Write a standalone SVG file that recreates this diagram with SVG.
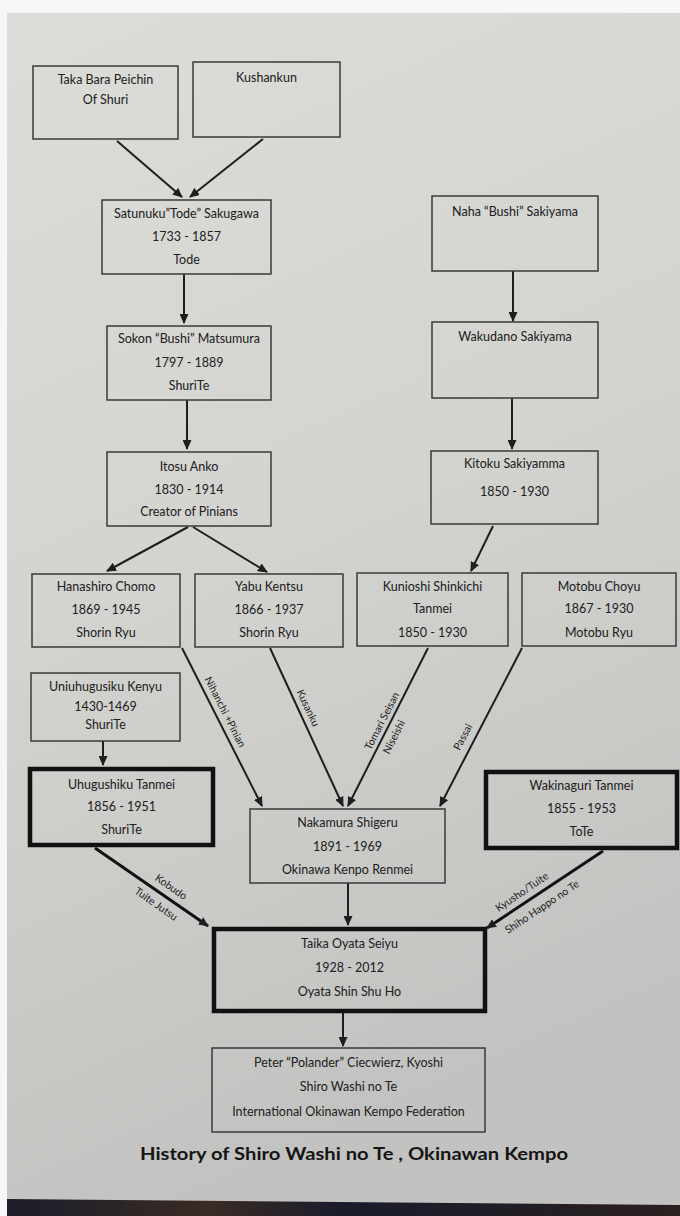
<svg xmlns="http://www.w3.org/2000/svg" width="680" height="1216" viewBox="0 0 680 1216">
<defs>
<linearGradient id="paper" x1="0" y1="0" x2="0.25" y2="1">
<stop offset="0" stop-color="#dcdcd8"/>
<stop offset="0.5" stop-color="#d3d3d0"/>
<stop offset="1" stop-color="#c2c2c0"/>
</linearGradient>
<linearGradient id="floor" x1="0" y1="0" x2="1" y2="0">
<stop offset="0" stop-color="#1b1d2a"/>
<stop offset="0.3" stop-color="#3a2b25"/>
<stop offset="0.5" stop-color="#1a1c2c"/>
<stop offset="1" stop-color="#2a2020"/>
</linearGradient>
<marker id="ah" markerUnits="userSpaceOnUse" markerWidth="10" markerHeight="9" refX="9" refY="4.5" orient="auto">
<path d="M0,0 L10,4.5 L0,9 z" fill="#1e1e1e"/>
</marker>
<style>
.box{fill:none;stroke:#3a3a3a;stroke-width:1.5}
.thick{fill:none;stroke:#111;stroke-width:4.5}
.t{font-family:Lato,"Liberation Sans",sans-serif;font-size:12.5px;fill:#202020;text-anchor:middle}
.lbl{font-family:Lato,"Liberation Sans",sans-serif;font-size:10.5px;fill:#222;text-anchor:middle}
.ttl{font-family:Lato,"Liberation Sans",sans-serif;font-size:16.5px;font-weight:bold;fill:#151515;text-anchor:middle}
.c{stroke:#1e1e1e;stroke-width:2;fill:none;marker-end:url(#ah)}
.ct{stroke:#111;stroke-width:3;fill:none;marker-end:url(#ah)}
</style>
</defs>
<rect x="0" y="0" width="680" height="1216" fill="#f6f6f6"/>
<rect x="7" y="13" width="673" height="1192" fill="url(#paper)"/>
<path d="M7,1199 L680,1205 L680,1216 L7,1216 z" fill="url(#floor)"/>

<g id="connectors">
<line class="c" x1="117" y1="141" x2="182" y2="197"/>
<line class="c" x1="263" y1="139" x2="190" y2="197"/>
<line class="c" x1="184" y1="274" x2="184" y2="323"/>
<line class="c" x1="187" y1="400" x2="187" y2="449"/>
<line class="c" x1="188" y1="527" x2="107" y2="571"/>
<line class="c" x1="193" y1="527" x2="267" y2="572"/>
<line class="c" x1="513" y1="271" x2="513" y2="321"/>
<line class="c" x1="512" y1="398" x2="512" y2="449"/>
<line class="c" x1="493" y1="526" x2="471" y2="571"/>
<line class="c" x1="182" y1="648" x2="262" y2="806"/>
<line class="c" x1="270" y1="648" x2="343" y2="806"/>
<line class="c" x1="428" y1="648" x2="348" y2="806"/>
<line class="c" x1="522" y1="648" x2="440" y2="806"/>
<line class="c" x1="103" y1="741" x2="103" y2="765"/>
<line class="ct" x1="95" y1="848" x2="208" y2="926"/>
<line class="ct" x1="603" y1="851" x2="487" y2="928"/>
<line class="c" x1="348" y1="883" x2="348" y2="925"/>
<line class="c" x1="343" y1="1013" x2="343" y2="1046"/>
<text class="lbl" transform="translate(225,712) rotate(63)" y="3.5">Nihanchi +Pinian</text>
<text class="lbl" transform="translate(308,708) rotate(65)" y="3.5">Kusanku</text>
<text class="lbl" transform="translate(382,721) rotate(-63)" y="3.5">Tomari Seisan</text>
<text class="lbl" transform="translate(394,737) rotate(-63)" y="3.5">Niseishi</text>
<text class="lbl" transform="translate(463,737) rotate(-62)" y="3.5">Passai</text>
<text class="lbl" transform="translate(171,887) rotate(35)" y="3.5">Kobudo</text>
<text class="lbl" transform="translate(156,904) rotate(35)" y="3.5">Tuite Jutsu</text>
<text class="lbl" transform="translate(522,892) rotate(-34)" y="3.5">Kyusho/Tuite</text>
<text class="lbl" transform="translate(542,907) rotate(-34)" y="3.5">Shiho Happo no Te</text>
</g>

<g id="taka"><rect class="box" x="33" y="66" width="145" height="73"/>
<text class="t" x="105.5" y="84">Taka Bara Peichin</text><text class="t" x="105.5" y="104">Of Shuri</text></g>
<g id="kushankun"><rect class="box" x="193" y="62" width="147" height="75"/>
<text class="t" x="266.5" y="82">Kushankun</text></g>
<g id="satunuku"><rect class="box" x="102" y="200" width="169" height="74"/>
<text class="t" x="186.5" y="218">Satunuku”Tode” Sakugawa</text><text class="t" x="186.5" y="241">1733 - 1857</text><text class="t" x="186.5" y="264">Tode</text></g>
<g id="sokon"><rect class="box" x="107" y="326" width="164" height="74"/>
<text class="t" x="189" y="343">Sokon “Bushi” Matsumura</text><text class="t" x="189" y="367">1797 - 1889</text><text class="t" x="189" y="390">ShuriTe</text></g>
<g id="itosu"><rect class="box" x="107" y="452" width="164" height="74"/>
<text class="t" x="189" y="471">Itosu Anko</text><text class="t" x="189" y="494">1830 - 1914</text><text class="t" x="189" y="516">Creator of Pinians</text></g>
<g id="naha"><rect class="box" x="432" y="196" width="166" height="75"/>
<text class="t" x="515" y="216">Naha “Bushi” Sakiyama</text></g>
<g id="wakudano"><rect class="box" x="432" y="322" width="166" height="76"/>
<text class="t" x="515" y="341">Wakudano Sakiyama</text></g>
<g id="kitoku"><rect class="box" x="431" y="451" width="167" height="73"/>
<text class="t" x="514.5" y="468">Kitoku Sakiyamma</text><text class="t" x="514.5" y="496">1850 - 1930</text></g>
<g id="hanashiro"><rect class="box" x="32" y="574" width="148" height="73"/>
<text class="t" x="106" y="591">Hanashiro Chomo</text><text class="t" x="106" y="614">1869 - 1945</text><text class="t" x="106" y="637">Shorin Ryu</text></g>
<g id="yabu"><rect class="box" x="195" y="574" width="148" height="73"/>
<text class="t" x="269" y="591">Yabu Kentsu</text><text class="t" x="269" y="614">1866 - 1937</text><text class="t" x="269" y="637">Shorin Ryu</text></g>
<g id="kunioshi"><rect class="box" x="357" y="573" width="151" height="73"/>
<text class="t" x="432.5" y="591">Kunioshi Shinkichi</text><text class="t" x="432.5" y="613">Tanmei</text><text class="t" x="432.5" y="637">1850 - 1930</text></g>
<g id="motobu"><rect class="box" x="522" y="573" width="154" height="73"/>
<text class="t" x="599" y="591">Motobu Choyu</text><text class="t" x="599" y="613">1867 - 1930</text><text class="t" x="599" y="637">Motobu Ryu</text></g>
<g id="uniuhugusiku"><rect class="box" x="31" y="673" width="149" height="68"/>
<text class="t" x="105.5" y="691">Uniuhugusiku Kenyu</text><text class="t" x="105.5" y="711">1430-1469</text><text class="t" x="105.5" y="729">ShuriTe</text></g>
<g id="uhugushiku"><rect class="thick" x="30" y="769" width="183" height="76"/>
<text class="t" x="121.5" y="789">Uhugushiku Tanmei</text><text class="t" x="121.5" y="811">1856 - 1951</text><text class="t" x="121.5" y="834">ShuriTe</text></g>
<g id="nakamura"><rect class="box" x="250" y="809" width="195" height="74"/>
<text class="t" x="347.5" y="827">Nakamura Shigeru</text><text class="t" x="347.5" y="851">1891 - 1969</text><text class="t" x="347.5" y="874">Okinawa Kenpo Renmei</text></g>
<g id="wakinaguri"><rect class="thick" x="486" y="772" width="191" height="76"/>
<text class="t" x="581.5" y="790">Wakinaguri Tanmei</text><text class="t" x="581.5" y="813">1855 - 1953</text><text class="t" x="581.5" y="836">ToTe</text></g>
<g id="taika"><rect class="thick" x="214" y="929" width="271" height="82"/>
<text class="t" x="349.5" y="948">Taika Oyata Seiyu</text><text class="t" x="349.5" y="972">1928 - 2012</text><text class="t" x="349.5" y="996">Oyata Shin Shu Ho</text></g>
<g id="peter"><rect class="box" x="212" y="1048" width="273" height="84"/>
<text class="t" x="348.5" y="1067">Peter “Polander” Ciecwierz, Kyoshi</text><text class="t" x="348.5" y="1091">Shiro Washi no Te</text><text class="t" x="348.5" y="1116">International Okinawan Kempo Federation</text></g>
<text class="ttl" x="354" y="1160" textLength="428" lengthAdjust="spacingAndGlyphs">History of Shiro Washi no Te , Okinawan Kempo</text>
</svg>
